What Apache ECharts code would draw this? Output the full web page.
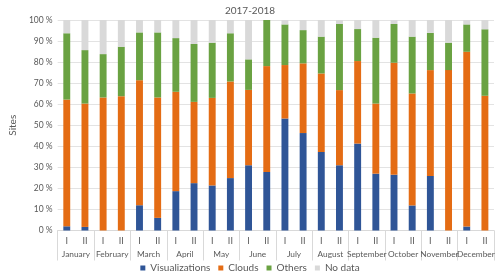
<!DOCTYPE html>
<html>
<head>
<meta charset="utf-8">
<script src="https://cdn.jsdelivr.net/npm/echarts@6/dist/echarts.min.js"></script>
<style>html,body{margin:0;padding:0;background:#fff}#c{width:500px;height:276px}</style>
</head>
<body>
<div id="c"></div>
<script>
var months = ['January','February','March','April','May','June','July','August','September','October','November','December'];
var halves = ['I','II'];
var visualizations = [2,1.7,0,0,12,6,18.7,22.5,21.4,24.9,31,27.8,53.2,46.3,37.3,31,41.3,27,26.5,11.9,25.9,0,1.9,0];
var clouds = [60.2,58.6,63.2,63.8,59.4,57.2,47.2,38.6,41.6,45.9,35.8,50.3,25.4,33.1,37.3,35.7,39.2,33.3,53.2,53.2,50.3,76.2,83,64];
var others = [31.5,25.4,20.6,23.5,22.7,30.9,25.5,27.5,26.2,22.9,14.5,21.9,19.3,15.8,17.5,31.4,15.2,31.3,18.4,27,17.7,13,13,31.6];
var noData = [6.3,14.3,16.2,12.7,5.9,5.9,8.6,11.4,10.8,6.3,18.7,0,2.1,4.8,7.9,1.9,4.3,8.4,1.9,7.9,6.1,10.8,2.1,4.4];
var yTicks = [0,10,20,30,40,50,60,70,80,90,100];

var cats = [];
months.forEach(function(m){ halves.forEach(function(h){ cats.push(h); }); });
var FONT = 'Lato';
var txt = '#595959';
function bar(name, data, color){
  return {name:name, type:'bar', stack:'s', data:data, barWidth:'38%', itemStyle:{color:color}, xAxisIndex:0, yAxisIndex:0};
}
var chart = echarts.init(document.getElementById('c'), null, {renderer:'canvas'});
chart.setOption({
  animation:false,
  textStyle:{fontFamily:FONT},
  title:{text:'2017-2018', left:'center', top:1, textStyle:{fontSize:10, fontWeight:'normal', color:txt, fontFamily:FONT}},
  grid:{left:38, right:6, top:20, bottom:45.5},
  legend:{top:263, left:'center', itemWidth:5, itemHeight:5, itemGap:8, icon:'rect', padding:0,
    textStyle:{fontSize:10, color:txt, fontFamily:FONT},
    data:['Visualizations','Clouds','Others','No data']},
  xAxis:[
    {type:'category', data:cats, position:'bottom',
      axisLine:{lineStyle:{color:'#d9d9d9'}}, axisTick:{show:false},
      axisLabel:{interval:0, fontSize:9, color:txt, margin:6, fontFamily:FONT}},
    {type:'category', data:months, position:'bottom', gridIndex:0,
      axisLine:{show:false},
      axisTick:{show:true, length:30, lineStyle:{color:'#d9d9d9'}},
      axisLabel:{interval:0, fontSize:8.3, color:txt, margin:20, fontFamily:FONT}}
  ],
  yAxis:{type:'value', min:yTicks[0], max:yTicks[yTicks.length-1], interval:10,
    name:'Sites', nameLocation:'middle', nameGap:27, nameTextStyle:{fontSize:10, color:txt, fontFamily:FONT},
    axisLine:{show:false}, axisTick:{show:false},
    splitLine:{lineStyle:{color:'#e3e3e3'}},
    axisLabel:{formatter:'{value} %', fontSize:8.5, color:txt, margin:5, fontFamily:FONT}},
  series:[
    bar('Visualizations', visualizations, '#2f5597'),
    bar('Clouds', clouds, '#e46c14'),
    bar('Others', others, '#6aa242'),
    bar('No data', noData, '#d9d9d9')
  ]
});
</script>
</body>
</html>
